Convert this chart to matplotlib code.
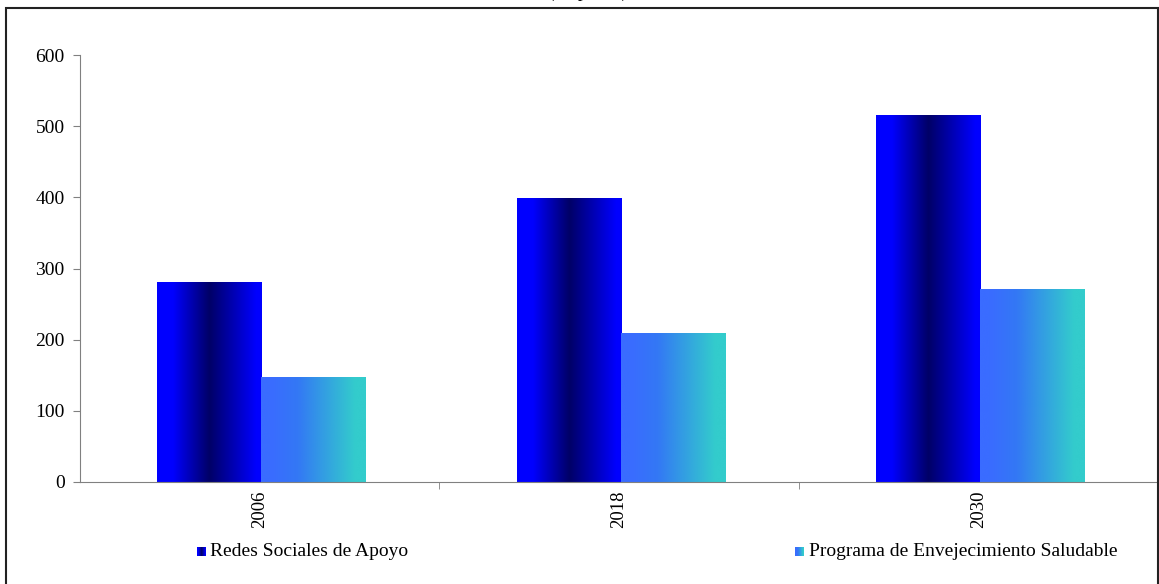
import numpy as np
import matplotlib.pyplot as plt
from matplotlib.colors import LinearSegmentedColormap
from matplotlib.patches import Rectangle

# values per year
years = ['2006', '2018', '2030']
redes = [281, 398, 515]
programa = [147, 208, 270]
series_names = ['Redes Sociales de Apoyo', 'Programa de Envejecimiento Saludable']

plt.rcParams['font.family'] = ['Liberation Serif', 'DejaVu Serif']

cm_redes = LinearSegmentedColormap.from_list(
    'redes', [(0, '#0000ff'), (0.15, '#0000ff'), (0.5, '#000066'),
              (0.8, '#0000cc'), (0.95, '#0000ff'), (1, '#0000ff')])
cm_prog = LinearSegmentedColormap.from_list(
    'prog', [(0, '#3a6cff'), (0.1, '#3a6cff'), (0.35, '#3378f5'),
             (0.9, '#33cccc'), (1, '#33cccc')])

fig = plt.figure(figsize=(11.59, 5.84), dpi=100)
ax = fig.add_axes([80 / 1159, (584 - 482) / 584, 1078 / 1159, 427 / 584])

x = np.arange(len(years))
w = 0.29
grad = np.linspace(0, 1, 256).reshape(1, -1)


def gradient_bars(xs, vals, cmap):
    bars = ax.bar(xs, vals, w, color='none', edgecolor='none')
    for b in bars:
        x0, y0 = b.get_x(), b.get_y()
        ax.imshow(grad, cmap=cmap, aspect='auto', interpolation='bicubic',
                  extent=(x0, x0 + b.get_width(), y0, y0 + b.get_height()),
                  zorder=2)


gradient_bars(x - w / 2 + 0.005, redes, cm_redes)
gradient_bars(x + w / 2 + 0.005, programa, cm_prog)

ax.set_xlim(-0.5, 2.5)
ax.set_ylim(0, 600)
ax.set_yticks(range(0, 601, 100))
ax.set_xticks(x)
ax.set_xticklabels(years, rotation=90)
ax.set_xticks([0.5, 1.5, 2.5], minor=True)
ax.tick_params(axis='x', which='major', length=0, pad=6, labelsize=13.5)
ax.tick_params(axis='x', which='minor', length=5, color='#808080')
ax.tick_params(axis='y', length=5, color='#808080', labelsize=14, pad=6)
for s in ['top', 'right']:
    ax.spines[s].set_visible(False)
for s in ['left', 'bottom']:
    ax.spines[s].set_color('#808080')

# legend along the bottom
for (lx, tx), name, cmap in zip([(197, 210), (795, 809)], series_names, [cm_redes, cm_prog]):
    sq = fig.add_axes([lx / 1159, (584 - 556) / 584, 9 / 1159, 9 / 584])
    sq.imshow(grad, cmap=cmap, aspect='auto')
    sq.axis('off')
    fig.text(tx / 1159, (584 - 551) / 584, name, fontsize=14, va='center', ha='left')

# title line mostly outside the page
fig.text(588 / 1159, 1.0 + 8 / 584, '(en pesos)', fontsize=14, ha='center', va='center')

# frame around the whole chart
fig.patches.append(Rectangle((6 / 1159, -0.1), 1152 / 1159, 1.1 - 8 / 584,
                             transform=fig.transFigure, fill=False,
                             edgecolor='#222222', linewidth=1.5))

fig.savefig('out.png', dpi=100)
